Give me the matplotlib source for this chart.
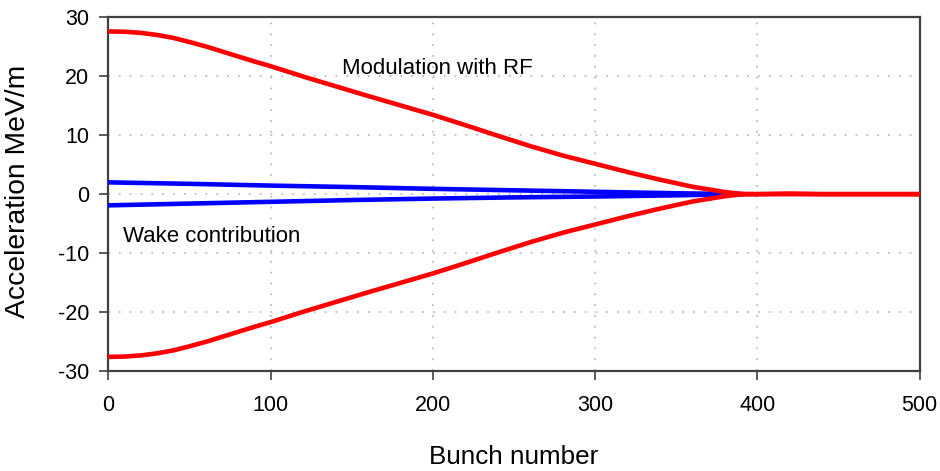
import matplotlib
matplotlib.use("Agg")
import matplotlib.pyplot as plt

plt.rcParams["font.family"] = ["Liberation Sans", "DejaVu Sans"]
plt.rcParams["axes.unicode_minus"] = False

# Bunch positions where the accelerating field was sampled
bunch = [0, 10, 20, 30, 40, 50, 60, 70, 80, 90, 100, 120, 140, 160, 180,
         200, 220, 240, 260, 280, 300, 320, 340, 360, 380, 390, 400,
         420, 440, 460, 480, 500]

# RF modulation envelope (MeV/m), upper and lower
rf_upper = [27.6, 27.55, 27.35, 27.0, 26.5, 25.8, 25.05, 24.2, 23.35, 22.5,
            21.7, 19.95, 18.3, 16.65, 15.05, 13.45, 11.7, 9.9, 8.15, 6.55,
            5.15, 3.75, 2.45, 1.25, 0.35, 0.05, 0.0, 0.1, 0.0, 0.0, 0.0, 0.0]
rf_lower = [-27.6, -27.55, -27.35, -27.0, -26.5, -25.8, -25.05, -24.2, -23.35,
            -22.5, -21.7, -19.95, -18.3, -16.65, -15.05, -13.45, -11.7, -9.9,
            -8.15, -6.55, -5.15, -3.75, -2.45, -1.25, -0.35, -0.05, 0.0, 0.0,
            0.0, 0.0, 0.0, 0.0]

# Wake-field contribution (MeV/m)
wake_bunch = [0, 50, 100, 150, 200, 250, 300, 350, 390]
wake_upper = [2.0, 1.75, 1.45, 1.2, 0.9, 0.65, 0.4, 0.15, 0.0]
wake_lower = [-1.9, -1.6, -1.3, -1.0, -0.75, -0.55, -0.4, -0.2, 0.0]

x_ticks = [0, 100, 200, 300, 400, 500]
y_ticks = [-30, -20, -10, 0, 10, 20, 30]

fig = plt.figure(figsize=(9.4, 4.71), dpi=100)
ax = fig.add_axes([0.1154, 0.2123, 0.8628, 0.7510])

ax.plot(wake_bunch, wake_upper, color="#0000ff", lw=3.3, zorder=3)
ax.plot(wake_bunch, wake_lower, color="#0000ff", lw=3.3, zorder=3)
ax.plot(bunch, rf_upper, color="#ff0000", lw=3.3, zorder=4)
ax.plot(bunch, rf_lower, color="#ff0000", lw=3.3, zorder=4)

ax.set_xlim(0, 500)
ax.set_ylim(-30, 30)
ax.set_xticks(x_ticks)
ax.set_yticks(y_ticks)
ax.grid(True, color="#bcbcbc", linestyle=(0, (1, 5)), linewidth=1.3)
ax.set_axisbelow(True)

for side in ax.spines.values():
    side.set_color("#404040")
    side.set_linewidth(1.6)

ax.tick_params(axis="both", direction="out", length=6.5, width=1.2,
               color="#404040", labelsize=15.5, labelcolor="black")
ax.tick_params(axis="x", pad=11)
ax.tick_params(axis="y", pad=7.5)

ax.set_xlabel("Bunch number", fontsize=18.7, labelpad=21)
ax.set_ylabel("Acceleration MeV/m", fontsize=20.3)
ax.yaxis.set_label_coords(-0.0955, 0.507)

ax.text(143.8, 20.4, "Modulation with RF", fontsize=16, va="baseline", ha="left")
ax.text(9.1, -8.2, "Wake contribution", fontsize=16, va="baseline", ha="left")

fig.savefig("out.png", dpi=100)
